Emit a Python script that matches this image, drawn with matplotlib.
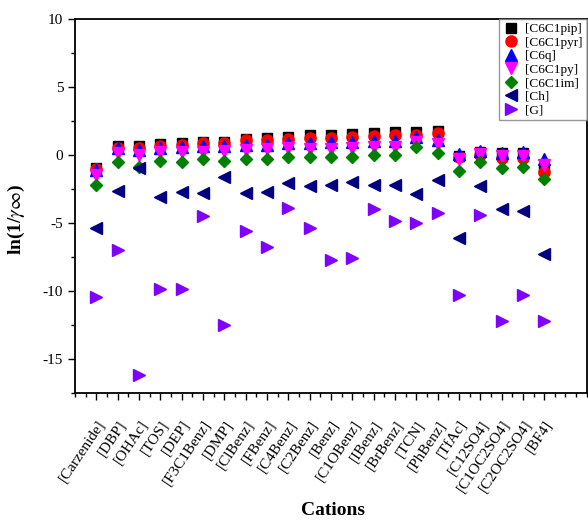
import numpy as np
import matplotlib
matplotlib.use("Agg")
import matplotlib.pyplot as plt
from matplotlib.ticker import MultipleLocator

plt.rcParams['font.family'] = ['Liberation Serif', 'DejaVu Serif']
plt.rcParams['mathtext.fontset'] = 'stix'
plt.rcParams['axes.unicode_minus'] = False

anions = ['[Carzenide]', '[DBP]', '[OHAc]', '[TOS]', '[DEP]', '[F3C1Benz]', '[DMP]',
          '[ClBenz]', '[FBenz]', '[C4Benz]', '[C2Benz]', '[Benz]', '[C1OBenz]', '[IBenz]',
          '[BrBenz]', '[TCN]', '[PhBenz]', '[TfAc]', '[C12SO4]', '[C1OC2SO4]',
          '[C2OC2SO4]', '[BF4]']

c6c1pip = [-0.93, 0.69, 0.69, 0.78, 0.86, 0.98, 0.98, 1.18, 1.27, 1.35, 1.47,
           1.47, 1.52, 1.59, 1.67, 1.72, 1.76, -0.05, 0.22, 0.12, 0.15, -1.1]
c6c1pyr = [-1.05, 0.54, 0.55, 0.69, 0.74, 0.86, 0.86, 1.1, 1.1, 1.18, 1.27,
           1.27, 1.35, 1.4, 1.47, 1.47, 1.59, -0.15, -0.0, -0.25, -0.2, -1.25]
c6q = [-1.1, 0.49, 0.4, 0.54, 0.61, 0.69, 0.65, 0.74, 0.74, 0.86, 0.86,
       0.93, 0.93, 1.0, 1.0, 1.3, 1.1, 0.07, 0.32, 0.17, 0.25, -0.32]
c6c1py = [-1.47, 0.13, 0.0, 0.25, 0.2, 0.25, 0.3, 0.37, 0.42, 0.49, 0.44,
          0.44, 0.54, 0.61, 0.61, 0.98, 0.81, -0.32, 0.07, -0.07, -0.07, -0.74]
c6c1im = [-2.2, -0.5, -0.86, -0.44, -0.49, -0.32, -0.44, -0.29, -0.32, -0.12, -0.17,
          -0.17, -0.17, 0.0, 0.0, 0.56, 0.12, -1.15, -0.49, -0.98, -0.86, -1.79]
ch = [-5.4, -2.65, -0.97, -3.07, -2.74, -2.77, -1.59, -2.77, -2.72, -2.03, -2.25,
      -2.2, -2.0, -2.2, -2.2, -2.89, -1.84, -6.13, -2.25, -3.99, -4.09, -7.28]
g = [-10.45, -7.0, -16.2, -9.85, -9.85, -4.49, -12.5, -5.56, -6.79, -3.92, -5.39,
     -7.72, -7.6, -3.99, -4.83, -5.03, -4.24, -10.3, -4.41, -12.18, -10.3, -12.2]

series = [
    ('[C6C1pip]', c6c1pip, 's', 'black'),
    ('[C6C1pyr]', c6c1pyr, 'o', 'red'),
    ('[C6q]', c6q, '^', 'blue'),
    ('[C6C1py]', c6c1py, 'v', 'magenta'),
    ('[C6C1im]', c6c1im, 'D', 'green'),
    ('[Ch]', ch, '<', 'navy'),
    ('[G]', g, '>', '#8000ff'),
]

x = np.arange(1, len(anions) + 1)

fig = plt.figure(figsize=(5.88, 5.22), dpi=100)
ax = fig.add_axes([0.1276, 0.247, 0.8704, 0.7166])

for name, vals, m, col in series:
    ms = 6.5 if m in ('s', 'D') else 8
    ax.plot(x, vals, linestyle='none', marker=m, color=col, markersize=ms, label=name)

ax.set_xlim(0, 24)
ax.set_ylim(-17.5, 10)
ax.yaxis.set_major_locator(MultipleLocator(5))
ax.yaxis.set_minor_locator(MultipleLocator(2.5))
ax.set_xticks(x)
ax.set_xticklabels(anions, rotation=56, ha='right', rotation_mode='anchor', fontsize=11)
ax.xaxis.set_minor_locator(MultipleLocator(0.5))
ax.tick_params(axis='x', which='major', direction='out', length=5, width=1, pad=13)
ax.tick_params(axis='x', which='minor', direction='out', length=3, width=1)
ax.tick_params(axis='y', which='major', direction='out', length=5, width=1, labelsize=11)
ax.tick_params(axis='y', which='minor', direction='out', length=3, width=1)
for sp in ax.spines.values():
    sp.set_linewidth(1.3)

ax.set_ylabel(r'ln(1/$\mathit{\gamma}\infty$)', fontsize=14, fontweight='bold')
ax.yaxis.set_label_coords(-0.094, 0.465)
ax.set_xlabel('Cations', fontsize=14, fontweight='bold')
ax.xaxis.set_label_coords(0.504, -0.29)

leg = ax.legend(loc='upper right', borderaxespad=0, fontsize=9.5, frameon=True,
                fancybox=False, edgecolor='gray', labelspacing=0.1,
                handletextpad=0.5, handlelength=1.2, borderpad=0.3)
leg.get_frame().set_linewidth(1.0)

fig.savefig('out.png', dpi=100)
